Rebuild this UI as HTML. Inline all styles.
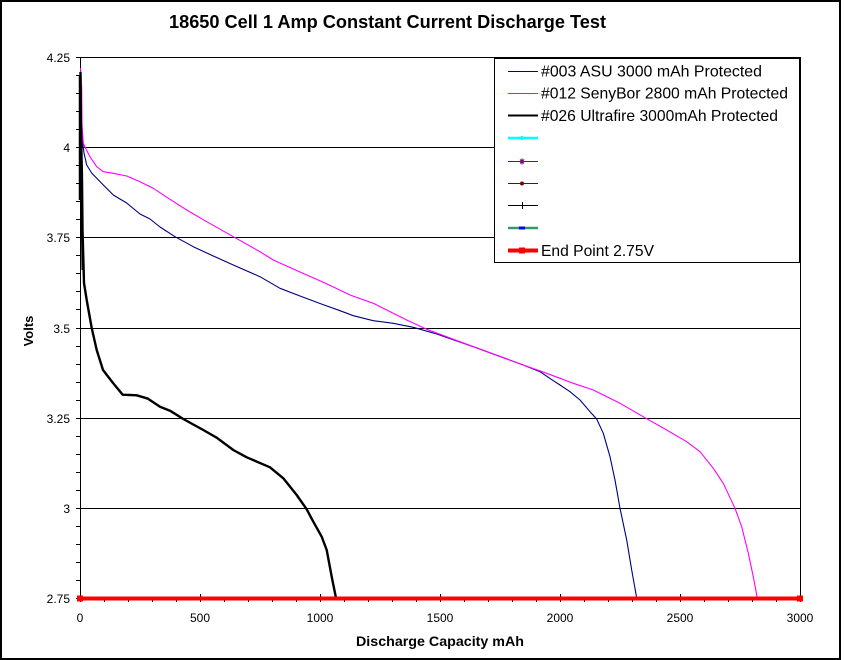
<!DOCTYPE html>
<html>
<head>
<meta charset="utf-8">
<style>
html,body{margin:0;padding:0;background:#fff;}
svg{display:block;}
text{font-family:"Liberation Sans",Arial,sans-serif;fill:#000;}
</style>
</head>
<body>
<svg width="844" height="660" viewBox="0 0 844 660" xmlns="http://www.w3.org/2000/svg">
<rect x="0" y="0" width="844" height="660" fill="#fff"/>
<!-- outer border -->
<rect x="1" y="1" width="839" height="658" fill="none" stroke="#000" stroke-width="2"/>

<!-- title -->
<text x="169" y="28" font-size="18" font-weight="bold" textLength="437" lengthAdjust="spacingAndGlyphs">18650 Cell 1 Amp Constant Current Discharge Test</text>

<!-- gridlines -->
<g stroke="#000" stroke-width="1" fill="none">
<path d="M76 57.5H800 M76 147.5H800 M76 237.5H800 M76 328.5H800 M76 418.5H800 M76 508.5H800"/>
<path d="M800.5 57V599"/>
<path d="M80.5 57V599"/>
<!-- y ticks -->
<path d="M76 57.5H80 M76 75.5H80 M76 93.5H80 M76 111.5H80 M76 129.5H80 M76 147.5H80 M76 165.5H80 M76 183.5H80 M76 201.5H80 M76 219.5H80 M76 237.5H80 M76 255.5H80 M76 273.5H80 M76 291.5H80 M76 309.5H80 M76 328.5H80 M76 346.5H80 M76 364.5H80 M76 382.5H80 M76 400.5H80 M76 418.5H80 M76 436.5H80 M76 454.5H80 M76 472.5H80 M76 490.5H80 M76 508.5H80 M76 526.5H80 M76 544.5H80 M76 562.5H80 M76 580.5H80 M76 598.5H80"/>
<!-- x ticks -->
<path d="M80.5 594V602 M104.5 598V602 M128.5 598V602 M152.5 598V602 M176.5 598V602 M200.5 594V602 M224.5 598V602 M248.5 598V602 M272.5 598V602 M296.5 598V602 M320.5 594V602 M344.5 598V602 M368.5 598V602 M392.5 598V602 M416.5 598V602 M440.5 594V602 M464.5 598V602 M488.5 598V602 M512.5 598V602 M536.5 598V602 M560.5 594V602 M584.5 598V602 M608.5 598V602 M632.5 598V602 M656.5 598V602 M680.5 594V602 M704.5 598V602 M728.5 598V602 M752.5 598V602 M776.5 598V602 M800.5 594V602"/>
</g>

<!-- y labels -->
<g font-size="12" text-anchor="end">
<text x="70" y="62">4.25</text>
<text x="70" y="152">4</text>
<text x="70" y="242">3.75</text>
<text x="70" y="333">3.5</text>
<text x="70" y="423">3.25</text>
<text x="70" y="513">3</text>
<text x="70" y="603">2.75</text>
</g>
<!-- x labels -->
<g font-size="12" text-anchor="middle">
<text x="80" y="622">0</text>
<text x="200" y="622">500</text>
<text x="320" y="622">1000</text>
<text x="440" y="622">1500</text>
<text x="560" y="622">2000</text>
<text x="680" y="622">2500</text>
<text x="800" y="622">3000</text>
</g>

<!-- axis titles -->
<text x="356" y="646" font-size="14" font-weight="bold" textLength="168" lengthAdjust="spacingAndGlyphs">Discharge Capacity mAh</text>
<text transform="translate(33,331) rotate(-90)" font-size="13" font-weight="bold" text-anchor="middle">Volts</text>

<!-- series -->
<polyline fill="none" stroke="#000080" stroke-width="1.1" stroke-linejoin="round" points="80.5,75 81,110 81.3,123 82,138 83.3,148 84,153 86.7,165 91.7,173 103.3,185 113.3,195 126.7,203 140,214 150,219 160,227 175,236.7 193.3,246.7 213.3,256 233.3,265 260,276.7 280,288.3 300,296 320,303.5 340,310.7 353.3,315.7 373.3,320.7 393.3,323.3 413.3,327.3 436.7,334 473.3,346.7 523.3,365 540,371.7 553.3,380.7 560,385 570,391.7 580,400 590,411.7 596.7,419 603.3,433.3 610,456.7 615,480 620,508.3 626.7,540 631.7,570 636.7,598"/>
<polyline fill="none" stroke="#FF00FF" stroke-width="1.1" stroke-linejoin="round" points="80.5,68 81.7,88 82,125 83.3,143 85,147 90,156.7 96.7,166.7 103.3,171.7 113.3,173.3 126.7,176 140,181.7 153.3,188.3 170,199.3 186.7,210 206.7,221.7 233.3,236.7 260,251.7 273.3,260 300,272 325,283 350,295 373.3,303.3 406.7,320 426.7,329.3 473.3,346.7 523.3,365 546.7,373.3 560,378.3 573.3,383.3 593.3,390 620,403.3 646.7,418.7 666.7,430 686.7,441.7 700,451.7 713.3,468.3 723.3,483.3 735,508.3 741.7,526.7 748.3,553.3 753.3,576.7 757.3,598"/>
<polyline fill="none" stroke="#000" stroke-width="2.4" stroke-linejoin="round" points="80.5,72 80.8,110 81.2,140 82,180 82.5,230 83.5,265 84,283 86.7,300 91.7,328 96.7,350 103,370 113,383 122.7,394.7 136.7,395.3 148,398.7 160,406.7 170,410.7 183.3,419 203.3,430 216.7,437.7 233.3,450 246.7,457.3 270,467.3 283.3,478.3 296.7,495 306.7,509.3 313.3,521.7 321.7,536.7 326.7,550 331.7,576.7 336,598"/>
<path d="M80 75V200" stroke="#000" stroke-width="2.5"/>
<path d="M81.5 200L82.5 270" stroke="#000" stroke-width="2"/>

<!-- end point line -->
<path d="M80 598.5H800" stroke="#FF0000" stroke-width="4"/>
<rect x="77" y="595.5" width="6" height="6" fill="#FF0000"/>
<rect x="797" y="595.5" width="6" height="6" fill="#FF0000"/>

<!-- legend -->
<rect x="494.5" y="58.5" width="305" height="204" fill="#fff" stroke="#000" stroke-width="1"/>
<g font-size="16">
<text x="541" y="76.5" textLength="221" lengthAdjust="spacingAndGlyphs">#003 ASU 3000 mAh Protected</text>
<text x="541" y="98.5" textLength="247" lengthAdjust="spacingAndGlyphs">#012 SenyBor 2800 mAh Protected</text>
<text x="541" y="121" textLength="237" lengthAdjust="spacingAndGlyphs">#026 Ultrafire 3000mAh Protected</text>
<text x="541" y="256" textLength="113" lengthAdjust="spacingAndGlyphs">End Point 2.75V</text>
</g>
<path d="M508 71.5H538" stroke="#000080" stroke-width="1"/>
<path d="M508 93.5H538" stroke="#FF00FF" stroke-width="1"/>
<path d="M508 115.5H538" stroke="#000" stroke-width="2"/>
<path d="M508 138H538" stroke="#00FFFF" stroke-width="2.5"/>
<rect x="521" y="136" width="2" height="4" fill="#00FFFF"/>
<path d="M508 161.5H538" stroke="#800080" stroke-width="1"/>
<path d="M520 159.5L524 163.5M524 159.5L520 163.5M522 158.5V164.5" stroke="#800080" stroke-width="1.2"/>
<path d="M508 183.5H538" stroke="#800000" stroke-width="1"/>
<circle cx="522" cy="183.5" r="2" fill="#800000"/>
<path d="M508 205.5H538" stroke="#000" stroke-width="1"/>
<path d="M522.5 202V209" stroke="#000" stroke-width="1"/>
<path d="M508 228H538" stroke="#339966" stroke-width="2.5"/>
<rect x="519" y="226.5" width="6" height="3" fill="#0000FF"/>
<path d="M508 250.5H538" stroke="#FF0000" stroke-width="4"/>
<rect x="519" y="247.5" width="6" height="6" fill="#FF0000"/>
</svg>
</body>
</html>
